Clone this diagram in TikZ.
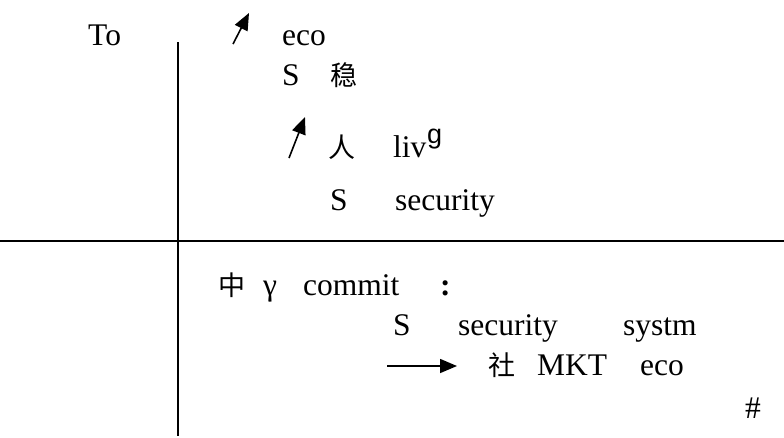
\documentclass[tikz,border=0pt]{standalone}
\usepackage{fontspec}
\setmainfont{Liberation Serif}
\newfontfamily\cjk{Noto Sans CJK SC}
\newfontfamily\supfont{Liberation Sans}
\usetikzlibrary{arrows.meta}
\begin{document}
\begin{tikzpicture}[x=1pt,y=-1pt,
  txt/.style={anchor=base west, inner sep=0pt, font=\fontsize{31.5}{36}\selectfont},
  han/.style={anchor=base west, inner sep=0pt, font=\cjk\fontsize{27}{32}\selectfont},
  rule/.style={line width=1.8pt},
  ptr/.style={line width=1.6pt, -{Triangle[length=17pt,width=14pt]}}]
\useasboundingbox (0,0) rectangle (784,437);

% axes of the table
\coordinate (vtop) at (178,42);
\coordinate (vbot) at (178,436);
\coordinate (hleft) at (0,241);
\coordinate (hright) at (784,241);
\draw[rule] (vtop) -- (vbot);
\draw[rule] (hleft) -- (hright);

% upper block
\node[txt] (to)   at (88,45)  {To};
\node[txt] (eco1) at (282,45) {eco};
\node[txt] (s1)   at (282,85) {S};
\node[han] (wen)  at (330,85) {稳};
\node[han] (ren)  at (328,157) {人};
\node[txt] (liv)  at (393,157) {liv};
\node[anchor=base west, inner sep=0pt, font=\supfont\fontsize{27}{32}\selectfont] (gsup) at (427,143) {g};
\node[txt] (s2)   at (330,210) {S};
\node[txt] (sec1) at (395,210) {security};

\coordinate (a1s) at (233,44);
\coordinate (a1e) at (249,13);
\draw[ptr] (a1s) -- (a1e);
\coordinate (a2s) at (289,158);
\coordinate (a2e) at (305,117);
\draw[ptr] (a2s) -- (a2e);

% lower block
\node[han] (zhong)  at (218,295) {中};
\node[txt] (gamma)  at (263,295) {γ};
\node[txt] (commit) at (303,295) {commit};
\node[txt, font=\bfseries\fontsize{31.5}{36}\selectfont] (colon) at (440,295) {:};
\node[txt] (s3)   at (393,335) {S};
\node[txt] (sec2) at (458,335) {security};
\node[txt] (sys)  at (623,335) {systm};
\node[han] (she)  at (488,375) {社};
\node[txt] (mkt)  at (537,375) {MKT};
\node[txt] (eco2) at (640,375) {eco};
\node[txt] (hash) at (745,418) {\#};

\coordinate (a3s) at (387,366);
\coordinate (a3e) at (457,366);
\draw[ptr] (a3s) -- (a3e);
\end{tikzpicture}
\end{document}
